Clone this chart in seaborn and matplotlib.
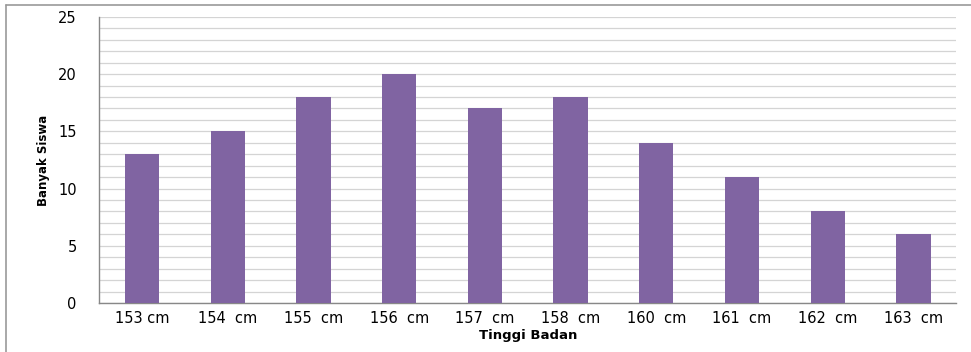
import numpy as np
import pandas as pd
import matplotlib
matplotlib.use("Agg")
import matplotlib.pyplot as plt
from matplotlib.lines import Line2D
import seaborn as sns

# Data
heights = ["153 cm", "154  cm", "155  cm", "156  cm", "157  cm",
           "158  cm", "160  cm", "161  cm", "162  cm", "163  cm"]
counts = [13, 15, 18, 20, 17, 18, 14, 11, 8, 6]

df = pd.DataFrame({"Tinggi Badan": heights, "Banyak Siswa": counts})

sns.set_style("white")
plt.rcParams['font.family'] = ['DejaVu Sans']

fig = plt.figure(figsize=(9.71, 3.52), dpi=100)
ax = fig.add_axes([0.102, 0.139, 0.883, 0.813])

sns.barplot(data=df, x="Tinggi Badan", y="Banyak Siswa", color="#8064A2",
            saturation=1, width=0.4, linewidth=0, edgecolor="none", ax=ax, zorder=3)

ax.set_ylim(0, 25)
ax.set_xlim(-0.5, len(heights) - 0.5)
ax.set_yticks(np.arange(0, 26, 5))
ax.set_yticks(np.arange(0, 26, 1), minor=True)
ax.grid(axis="y", which="both", color="#d4d4d4", linewidth=0.9, zorder=0)
ax.set_axisbelow(True)

# x ticks between categories
ax.set_xticks(np.arange(len(heights)))
ax.set_xticklabels(heights, fontsize=10.5, color="black")
ax.set_xticks(np.arange(-0.5, len(heights), 1), minor=True)
ax.tick_params(axis="x", which="major", length=0, pad=6, labelcolor="black")
ax.tick_params(axis="x", which="minor", length=4, color="#888888", direction="out")
ax.tick_params(axis="y", which="major", length=4, color="#888888", direction="out",
               labelsize=10.5, pad=12, labelcolor="black")
ax.tick_params(axis="y", which="minor", length=0)

for s in ["top", "right"]:
    ax.spines[s].set_visible(False)
for s in ["left", "bottom"]:
    ax.spines[s].set_color("#888888")
    ax.spines[s].set_linewidth(1)

ax.set_xlabel("Tinggi Badan", fontsize=9.5, fontweight="bold", labelpad=2, color="black")
ax.set_ylabel("Banyak Siswa", fontsize=8.5, fontweight="bold", labelpad=6, color="black")

# outer chart frame
fig.add_artist(Line2D([6 / 971, 6 / 971], [0, 1 - 5 / 352], color="#999999", lw=1.2))
fig.add_artist(Line2D([6 / 971, 1], [1 - 5 / 352, 1 - 5 / 352], color="#999999", lw=1.2))

fig.savefig("out.png", dpi=100, facecolor="white")
